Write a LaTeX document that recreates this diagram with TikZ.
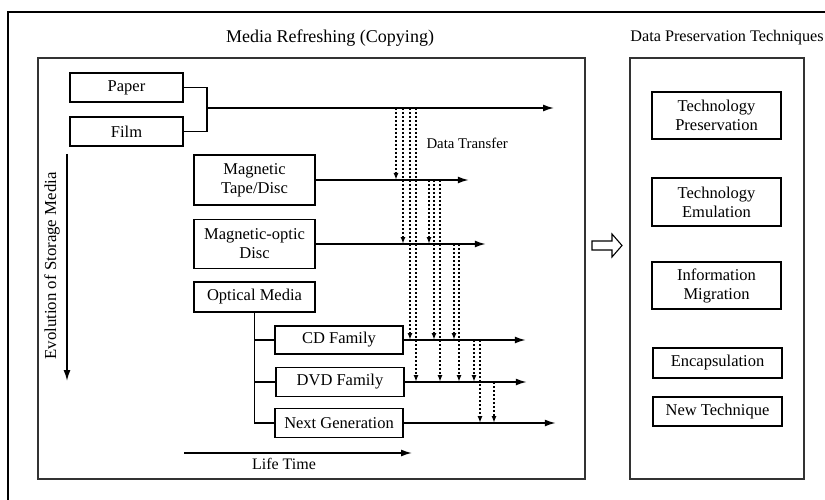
\documentclass[tikz,border=0pt]{standalone}
\usepackage{fontspec}
\setmainfont{Liberation Serif}
\usetikzlibrary{arrows.meta,positioning}

\begin{document}
\begin{tikzpicture}[x=1pt,y=-1pt]
		\useasboundingbox (0,0) rectangle (825,500);
		\tikzset{BoxStyle/.style = {rectangle, draw, line width=1.5pt, inner sep=0pt, align=center,
			font=\fontsize{16.5}{19}\selectfont},
		FrameStyle/.style = {draw=black!80, line width=1.7pt},
		FlowStyle/.style = {line width=1.5pt, -{Latex[length=11pt,width=7pt]}},
		TransferStyle/.style = {line width=1.6pt, dash pattern=on 2pt off 2pt, -{Latex[length=7pt,width=5pt]}}}
		% outer frame, cut by the page
		\draw[line width=2pt] (8,500) |- (825,12);
		\draw[FrameStyle] (38,58) rectangle (585,479);
		\draw[FrameStyle] (630,58) rectangle (804,479);
		\node[font=\fontsize{18}{20}\selectfont] (mrtitle) at (330,38) {Media Refreshing (Copying)};
		\node[font=\fontsize{16.2}{18}\selectfont] (dptitle) at (727,38) {Data Preservation Techniques};
		% storage media
		\node[BoxStyle, minimum width=113pt, minimum height=29pt] (paper) at (126.5,87.5) {Paper};
		\node[BoxStyle, minimum width=113pt, minimum height=29pt] (film) at (126.5,131.5) {Film};
		\node[BoxStyle, minimum width=121pt, minimum height=50pt] (tape) at (254.5,180) {Magnetic\\Tape/Disc};
		\node[BoxStyle, minimum width=121pt, minimum height=49pt] (mo) at (254.5,244) {Magnetic-optic\\Disc};
		\node[BoxStyle, minimum width=121pt, minimum height=30pt] (optical) at (254.5,297) {Optical Media};
		\node[BoxStyle, minimum width=128pt, minimum height=28pt] (cd) at (339,340) {CD Family};
		\node[BoxStyle, minimum width=128pt, minimum height=29pt] (dvd) at (340,382) {DVD Family};
		\node[BoxStyle, minimum width=128pt, minimum height=29pt] (nextgen) at (339,423) {Next Generation};
		\coordinate (join) at (207,108);
		\draw[line width=1.5pt] (paper.east) -| (join);
		\draw[line width=1.5pt] (film.east) -| (join);
		\draw[line width=1.5pt] (optical.south) |- (nextgen.west);
		\draw[line width=1.5pt] (optical.south |- cd.west) -- (cd.west);
		\draw[line width=1.5pt] (optical.south |- dvd.west) -- (dvd.west);
		% life time lines
		\draw[FlowStyle] (join) -- ++(347,0);
		\draw[FlowStyle] (tape.east) -- ++(153,0);
		\draw[FlowStyle] (mo.east) -- ++(170,0);
		\draw[FlowStyle] (cd.east) -- ++(122,0);
		\draw[FlowStyle] (dvd.east) -- ++(122,0);
		\draw[FlowStyle] (nextgen.east) -- ++(152,0);
		\foreach \x/\a/\b in {396/join/tape.east, 403/join/mo.east, 410/join/cd.east, 416/join/dvd.east,
			429/tape.east/mo.east, 434/tape.east/cd.east, 440/tape.east/dvd.east,
			454/mo.east/cd.east, 459/mo.east/dvd.east,
			474/cd.east/dvd.east, 480/cd.east/nextgen.east, 494/dvd.east/nextgen.east}
			\draw[TransferStyle] (\x,0 |- \a) -- (\x,0 |- \b);
		\node[anchor=west, font=\fontsize{14.8}{17}\selectfont] (transfer) at (423,143) {Data Transfer};
		% axes
		\coordinate (evtop) at (67,154);
		\coordinate (evbot) at (67,381);
		\draw[FlowStyle] (evtop) -- (evbot);
		\node[rotate=90, font=\fontsize{16.8}{19}\selectfont] (evolution) at (52,266) {Evolution of Storage Media};
		\coordinate (ltleft) at (184,453);
		\coordinate (ltright) at (412,453);
		\draw[FlowStyle] (ltleft) -- (ltright);
		\node[font=\fontsize{16}{18}\selectfont] (lifetime) at (284,464) {Life Time};
		% hollow arrow
		\draw[line width=1.1pt] (592,241) -- (612,241) -- (612,234) -- (622,245.5) -- (612,257) -- (612,250) -- (592,250) -- cycle;
		% techniques
		\node[BoxStyle, minimum width=129pt, minimum height=47pt] (techpres) at (716.5,115.5) {Technology\\Preservation};
		\node[BoxStyle, minimum width=129pt, minimum height=48pt] (techemu) at (716.5,202) {Technology\\Emulation};
		\node[BoxStyle, minimum width=129pt, minimum height=47pt] (infomig) at (716.5,285.5) {Information\\Migration};
		\node[BoxStyle, minimum width=129pt, minimum height=30pt] (encap) at (717.5,363) {Encapsulation};
		\node[BoxStyle, minimum width=129pt, minimum height=29pt] (newtech) at (717.5,411.5) {New Technique};
\end{tikzpicture}
\end{document}
